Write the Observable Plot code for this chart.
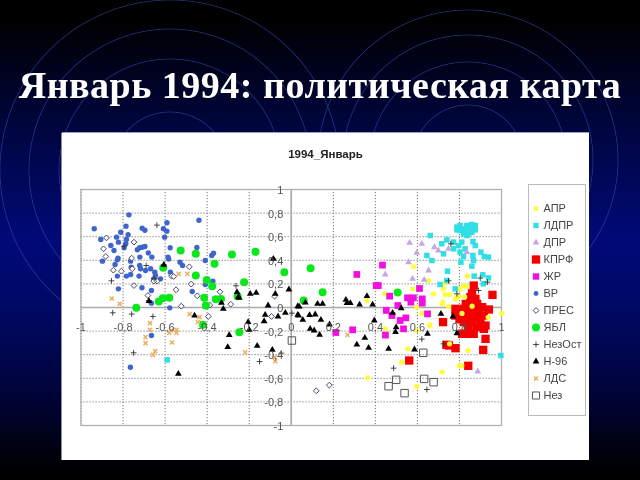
<!DOCTYPE html>
<html lang="ru">
<head>
<meta charset="utf-8">
<script src="https://cdn.jsdelivr.net/npm/d3@7"></script>
<script src="https://cdn.jsdelivr.net/npm/@observablehq/plot@0.6"></script>
<style>
html,body{margin:0;padding:0;width:640px;height:480px;overflow:hidden;background:#000}
#bg{position:absolute;left:0;top:0;width:640px;height:480px;}
#ttl{position:absolute;left:0;top:61px;width:640px;text-align:center;color:#fff;font:bold 38px "Liberation Serif",serif;letter-spacing:.5px;white-space:nowrap;line-height:48px;filter:blur(.3px)}
#panel{position:absolute;left:62px;top:133px;width:527px;height:327px;background:#fff;box-shadow:-1px 0 #8a8cb0,0 -1px #9a9cc0;filter:blur(.3px)}
#ct{position:absolute;left:0;top:15px;width:527px;text-align:center;font:bold 11.5px "Liberation Sans",sans-serif;color:#222}
#chart{position:absolute;left:0;top:0}
#leg{position:absolute;left:466px;top:51px}
svg{display:block;background:transparent}
</style>
</head>
<body>
<div id="bg"></div>
<div id="ttl">Январь 1994: политическая карта</div>
<div id="panel"><div id="chart"></div><div id="ct">1994_Январь</div><div id="leg"></div></div>
<script>
const xTicks=[-1,-0.8,-0.6,-0.4,-0.2,0,0.2,0.4,0.6,0.8,1];
const xLabels=["-1","-0,8","-0,6","-0,4","-0,2","0","0,2","0,4","0,6","0,8","1"];
const yTicks=[-1,-0.8,-0.6,-0.4,-0.2,0,0.2,0.4,0.6,0.8,1];
const yLabels=["-1","-0,8","-0,6","-0,4","-0,2","0","0,2","0,4","0,6","0,8","1"];
const seriesNames=["АПР","ЛДПР","ДПР","КПРФ","ЖР","ВР","ПРЕС","ЯБЛ","НезОст","Н-96","ЛДС","Нез"];

const apr=[[.582,.347],[.653,.229],[.577,.158],[.677,.116],[.444,.116],[.36,.059],[.838,.266],[.732,.206],[.724,.158],[.732,.11],[.753,.11],[.788,.088],[.803,.158],[.835,.178],[.597,.003],[.621,.031],[.721,.045],[.748,.008],[.797,.096],[.821,.186],[.718,.031],[.781,.073],[.825,.088],[.86,.011],[.812,-.05],[.937,-.083],[1.0,-.048],[.659,-.147],[.622,-.05],[.841,-.365],[.447,-.181],[.658,-.153],[.597,-.195],[.553,-.35],[.525,-.463],[.363,-.596],[.597,-.669],[.718,-.545],[.799,-.494],[.811,-.494],[.753,-.308]];
const ldpr=[[.661,.61],[.788,.681],[.803,.695],[.819,.667],[.835,.695],[.859,.703],[.875,.695],[.788,.658],[.803,.653],[.827,.653],[.851,.667],[.875,.658],[.819,.624],[.843,.624],[.859,.638],[.835,.61],[.74,.573],[.716,.54],[.811,.554],[.796,.525],[.772,.554],[.864,.559],[.875,.525],[.827,.497],[.724,.455],[.772,.497],[.803,.469],[.645,.441],[.669,.398],[.819,.432],[.807,.384],[.864,.441],[.867,.398],[.859,.35],[.902,.469],[.918,.432],[.938,.427],[.743,.308],[.87,.266],[.911,.277],[.938,.251],[.708,.195],[.74,.229],[.914,.201],[.78,.158],[-.59,-.444],[.997,-.407]];
const dpr=[[.563,.548],[.621,.54],[.597,.463],[.681,.511],[.7,.483],[.748,.497],[.558,.384],[.653,.314],[.447,.28],[.577,.243],[.632,.234],[.835,.469],[.887,-.542]];
const kprf=[[.868,.186],[.957,.107],[.852,.088],[.876,.073],[.852,.045],[.884,.031],[.781,-.011],[.821,-.011],[.86,-.011],[.908,.003],[.94,-.017],[.781,-.068],[.813,-.054],[.844,-.068],[.884,-.054],[.916,-.068],[.821,-.124],[.86,-.124],[.9,-.11],[.884,-.167],[.844,-.181],[.924,-.153],[.916,-.181],[.722,-.124],[.821,-.223],[.852,-.223],[.813,-.223],[.868,-.223],[.924,-.266],[.738,-.316],[.781,-.345],[.913,-.359],[.561,-.449],[.842,-.494],[.75,-.322],[.83,.03],[.86,.12],[.8,-.03],[.84,-.03],[.87,-.09],[.84,-.1],[.8,-.1],[.88,.01],[.84,-.15],[.895,-.03]];
const zhr=[[.434,.359],[.312,.28],[.404,.186],[.414,.186],[.61,.161],[.468,.096],[.553,.082],[.581,.082],[.569,.045],[.623,.073],[.623,.037],[.507,.017],[.452,-.025],[.479,-.068],[.518,-.11],[.545,-.088],[.648,-.054],[.534,-.181],[.292,-.189],[.212,-.212],[.448,-.234]];
const vr=[[-.772,.785],[-.937,.667],[-.786,.689],[-.811,.638],[-.776,.616],[-.709,.672],[-.696,.655],[-.591,.718],[-.608,.667],[-.592,.647],[-.602,.596],[-.439,.74],[-.906,.576],[-.831,.596],[-.822,.554],[-.784,.576],[-.787,.54],[-.858,.525],[-.843,.483],[-.795,.506],[-.732,.489],[-.721,.506],[-.709,.511],[-.696,.517],[-.68,.463],[-.663,.427],[-.576,.506],[-.449,.508],[-.37,.46],[-.378,.441],[-.409,.398],[-.824,.418],[-.827,.404],[-.898,.393],[-.838,.364],[-.72,.427],[-.764,.393],[-.586,.427],[-.583,.41],[-.529,.384],[-.517,.356],[-.721,.356],[-.761,.342],[-.717,.328],[-.669,.328],[-.649,.299],[-.646,.271],[-.693,.314],[-.575,.299],[-.827,.266],[-.784,.266],[-.764,.28],[-.724,.266],[-.622,.243],[-.654,.243],[-.373,.223],[-.409,.195],[-.822,.158],[-.71,.167],[-.665,.144],[-.471,.136],[-.665,.037],[-.578,-.003],[-.665,-.237],[-.765,-.506]];
const pres=[[-.879,.59],[-.893,.497],[-.882,.432],[-.748,.554],[-.759,.418],[-.846,.316],[-.808,.308],[-.756,.328],[-.485,.345],[-.57,.266],[-.559,.263],[-.748,.186],[-.548,.15],[-.476,.198],[-.447,.099],[-.339,.133],[-.682,.102],[-.638,.223],[-.654,.223],[-.079,.096],[-.523,.011],[-.387,.02],[-.288,.028],[-.394,-.076],[-.094,-.076],[.119,-.706],[.181,-.658]];
const yabl=[[-.526,.483],[-.454,.455],[-.282,.449],[-.17,.472],[-.365,.37],[-.033,.299],[-.609,.336],[-.454,.271],[-.402,.234],[-.376,.181],[-.224,.215],[-.737,-.003],[-.63,.051],[-.611,.079],[-.58,.082],[-.414,.082],[-.406,.017],[-.359,.07],[-.334,.073],[-.255,.096],[-.42,-.147],[-.247,-.209],[.092,.333],[.149,.13],[.059,.059],[.506,.127]];
const nezost=[[-.639,.698],[-.795,.52],[-.606,.362],[-.855,.226],[-.69,.356],[-.263,.184],[-.085,.412],[-.652,.243],[-.849,-.045],[-.759,-.056],[-.658,-.076],[-.75,-.384],[-.677,.059],[-.151,-.458],[-.047,-.387],[.003,-.048],[.621,-.268],[.487,-.514],[.645,-.695],[.724,-.308],[.759,.54],[.748,.226],[.899,.249],[.933,.215],[.788,.116],[.891,.144]];
const n96=[[-.085,.412],[-.011,.153],[-.258,.13],[-.195,.116],[-.167,.124],[-.076,.116],[-.606,.362],[-.252,.088],[-.677,.054],[-.332,.04],[-.323,-.011],[-.11,.017],[-.124,-.062],[-.129,-.116],[-.063,-.076],[-.028,-.045],[.031,.011],[.031,-.062],[-.46,-.068],[-.205,-.124],[-.2,-.189],[-.295,-.234],[-.302,-.336],[-.162,-.325],[-.09,-.359],[-.537,-.562],[-.247,.082],[.067,.042],[.125,.031],[.149,.031],[.26,.065],[.265,.037],[.281,.037],[.325,.025],[.36,.096],[.387,.025],[.038,.008],[.035,-.068],[.055,-.105],[.087,-.065],[.114,-.059],[.141,-.105],[.09,-.181],[.109,-.195],[.135,-.232],[.182,-.144],[.395,-.11],[.482,-.045],[.499,-.167],[.496,-.209],[.35,-.257],[.312,-.314],[.368,-.342],[.463,-.35],[.586,-.356],[.523,-.006],[.648,-.223],[.712,-.054],[.769,-.076],[.788,-.218]];
const lds=[[-.535,.285],[-.494,.285],[-.854,.076],[-.816,.031],[-.483,-.056],[-.436,-.082],[-.444,-.124],[-.672,-.133],[-.672,-.189],[-.693,-.251],[-.693,-.302],[-.647,-.37],[-.658,-.401],[-.58,-.215],[-.572,-.195],[-.546,-.189],[-.546,-.215],[-.567,-.297],[-.219,-.379],[-.079,-.421],[-.076,-.455],[.268,-.232]];
const nez=[[.628,-.384],[.499,-.613],[.463,-.667],[.539,-.726],[.632,-.605],[.677,-.633],[.003,-.28]];

const styles={
 "КПРФ":{data:kprf,symbol:"square",fill:"#f40000",r:4.7,lr:4.7},
 "АПР":{data:apr,symbol:"circle",fill:"#fdfd3c",r:2.6,lr:2.5},
 "ЛДПР":{data:ldpr,symbol:"square",fill:"#30dfe6",r:3.1,lr:3},
 "ДПР":{data:dpr,symbol:"triangle",fill:"#c5a5e3",r:2.5,lr:2.5},
 "ЖР":{data:zhr,symbol:"square",fill:"#f010e0",r:3.8,lr:3.6},
 "ВР":{data:vr,symbol:"circle",fill:"#3f65cc",r:2.7,lr:2.4},
 "ПРЕС":{data:pres,symbol:"diamond2",fill:"#fff",stroke:"#34345a",sw:.9,r:2.6,lr:2.6},
 "ЯБЛ":{data:yabl,symbol:"circle",fill:"#0ae81c",r:4,lr:4},
 "НезОст":{data:nezost,symbol:"plus",fill:"none",stroke:"#333",sw:.9,r:2,lr:2},
 "Н-96":{data:n96,symbol:"triangle",fill:"#000",r:2.5,lr:2.5},
 "ЛДС":{data:lds,symbol:"times",fill:"none",stroke:"#eab060",sw:1.5,r:2,lr:1.9},
 "Нез":{data:nez,symbol:"square",fill:"none",stroke:"#555",sw:1,r:4.2,lr:4}
};
const drawOrder=["КПРФ","АПР","ЛДПР","ДПР","ЖР","ВР","ПРЕС","ЯБЛ","НезОст","Н-96","ЛДС","Нез"];
const labelFont='"Liberation Sans",sans-serif';
const markOf=(name)=>{const s=styles[name];return Plot.dot(s.data,{x:d=>d[0],y:d=>d[1],symbol:s.symbol,r:s.r,fill:s.fill,stroke:s.stroke||"none",strokeWidth:s.sw||0});};

const chart=Plot.plot({
 width:527,height:327,marginLeft:18.5,marginRight:88,marginTop:56,marginBottom:35,
 style:{background:"transparent",overflow:"visible"},
 x:{domain:[-1,1],axis:null},y:{domain:[-1,1],axis:null},
 marks:[
  Plot.ruleX(xTicks,{stroke:"#777",strokeDasharray:"1.2,1.8",strokeWidth:1}),
  Plot.ruleY(yTicks,{stroke:"#777",strokeDasharray:"1.2,1.8",strokeWidth:1}),
  Plot.frame({stroke:"#b0b0b0",strokeWidth:1.3}),
  Plot.ruleX([0],{stroke:"#aaa",strokeWidth:1.6}),
  Plot.ruleY([0],{stroke:"#aaa",strokeWidth:1.6}),
  ...drawOrder.map(markOf),
  Plot.text(xTicks,{x:d=>d,y:()=>0,text:(d,i)=>xLabels[i],dy:20,fontSize:11,fill:"#555",fontFamily:labelFont,style:{letterSpacing:"0.5px"}}),
  Plot.text(yTicks,{x:()=>0,y:d=>d,text:(d,i)=>yLabels[i],dx:-8,dy:1,textAnchor:"end",fontSize:11,fill:"#555",fontFamily:labelFont,style:{letterSpacing:"0.5px"}})
 ]
});
document.getElementById("chart").append(chart);

const legend=Plot.plot({
 width:57,height:231,margin:0,
 style:{background:"transparent",overflow:"visible"},
 y:{type:"point",domain:seriesNames,range:[11.7,223],axis:null},
 marks:[
  Plot.frame({stroke:"#bbb",strokeWidth:1}),
  ...seriesNames.map(n=>{const s=styles[n];return Plot.dot([n],{frameAnchor:"left",dx:7.5,y:d=>d,symbol:s.symbol,r:s.lr,fill:s.fill,stroke:s.stroke||"none",strokeWidth:s.sw||0});}),
  Plot.text(seriesNames,{frameAnchor:"left",dx:15,y:d=>d,text:d=>d,textAnchor:"start",fontSize:11,fill:"#444",fontFamily:labelFont,style:{letterSpacing:"0.5px"}})
 ]
});
document.getElementById("leg").append(legend);

const rings=[[170,170,170],[170,170,141],[170,170,111],[170,170,58],[468,160,150],[468,160,125],[468,160,98],[468,160,55]];
const ringCss=rings.map(([cx,cy,r])=>`radial-gradient(circle at ${cx}px ${cy}px, transparent ${r-0.8}px, rgba(50,80,180,.6) ${r}px, transparent ${r+0.8}px)`).join(",");
document.getElementById("bg").style.background=ringCss+",linear-gradient(#000 0,#000 4%,#00053a 25%,#000a78 50%,#00085c 68%,#000330 85%,#000 98%)";
</script>
</body>
</html>
